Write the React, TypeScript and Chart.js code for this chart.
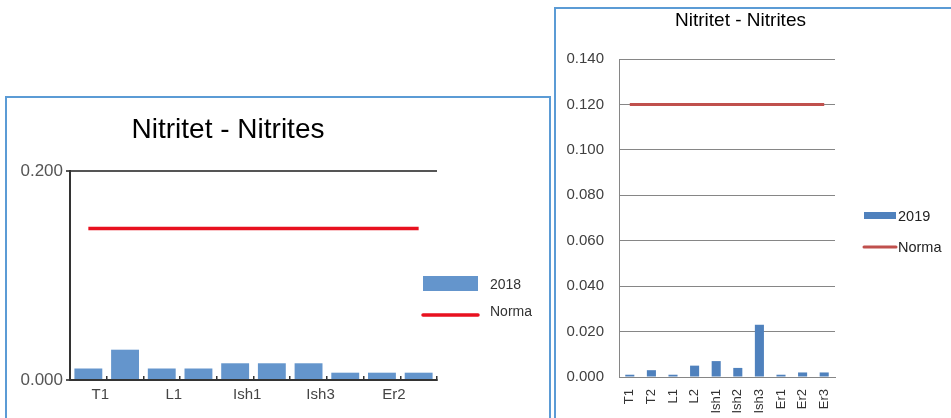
import React, { useEffect, useRef } from 'react';
import { Chart, registerables } from 'chart.js';

Chart.register(...registerables);

// ---------- data ----------
const categories = ['T1', 'T2', 'L1', 'L2', 'Ish1', 'Ish2', 'Ish3', 'Er1', 'Er2', 'Er3'];
const chartTitle = 'Nitritet - Nitrites';

const label2018 = '2018';
const values2018 = [0.011, 0.029, 0.011, 0.011, 0.016, 0.016, 0.016, 0.007, 0.007, 0.007];
const norma2018 = [0.145, 0.145, 0.145, 0.145, 0.145, 0.145, 0.145, 0.145, 0.145, 0.145];
const yTicks2018 = [0, 0.2];

const label2019 = '2019';
const values2019 = [0.001, 0.003, 0.001, 0.005, 0.007, 0.004, 0.023, 0.001, 0.002, 0.002];
const norma2019 = [0.12, 0.12, 0.12, 0.12, 0.12, 0.12, 0.12, 0.12, 0.12, 0.12];
const yTicks2019 = [0, 0.02, 0.04, 0.06, 0.08, 0.1, 0.12, 0.14];

const normaLabel = 'Norma';

const FONT = "'Liberation Sans', Arial, Helvetica, sans-serif";

// ---------- overlay plugin: title + legend at fixed spots ----------
const overlayPlugin = {
  id: 'overlay',
  afterDraw(chart: any, _args: any, opts: any) {
    const ctx = chart.ctx as CanvasRenderingContext2D;
    ctx.save();
    // title
    ctx.font = `${opts.title.weight} ${opts.title.size}px ${FONT}`;
    ctx.fillStyle = opts.title.color;
    ctx.textAlign = 'center';
    ctx.textBaseline = 'middle';
    ctx.fillText(opts.title.text, opts.title.x, opts.title.y);
    // legend
    const lg = opts.legend;
    chart.data.datasets.forEach((ds: any, i: number) => {
      const it = lg.items[i];
      if (!it) return;
      if (ds.type === 'line') {
        ctx.strokeStyle = ds.borderColor;
        ctx.lineWidth = ds.borderWidth;
        ctx.lineCap = 'round';
        ctx.beginPath();
        ctx.moveTo(lg.x, it.y);
        ctx.lineTo(lg.x + lg.boxW, it.y);
        ctx.stroke();
      } else {
        ctx.fillStyle = ds.backgroundColor;
        ctx.fillRect(lg.x, it.y - lg.boxH / 2, lg.boxW, lg.boxH);
      }
      ctx.font = `${lg.size}px ${FONT}`;
      ctx.fillStyle = lg.color;
      ctx.textAlign = 'left';
      ctx.textBaseline = 'middle';
      ctx.fillText(ds.label, lg.textX, it.textY);
    });
    ctx.restore();
  },
};

function useChart(ref: React.RefObject<HTMLCanvasElement>, makeConfig: () => any) {
  useEffect(() => {
    if (!ref.current) return;
    const chart = new Chart(ref.current, makeConfig());
    return () => chart.destroy();
  }, []);
}

function Chart2018() {
  const ref = useRef<HTMLCanvasElement>(null);
  useChart(ref, () => ({
    type: 'bar',
    data: {
      labels: categories,
      datasets: [
        {
          type: 'bar',
          label: label2018,
          data: values2018,
          backgroundColor: '#6495CC',
          borderWidth: 0,
          categoryPercentage: 1,
          barPercentage: 0.76,
          order: 2,
        },
        {
          type: 'line',
          label: normaLabel,
          data: norma2018,
          borderColor: '#E8111F',
          borderWidth: 3.5,
          pointRadius: 0,
          fill: false,
          order: 1,
        },
      ],
    },
    plugins: [overlayPlugin],
    options: {
      responsive: false,
      animation: false,
      layout: { padding: { top: 72, left: 11, right: 111, bottom: 0 } },
      plugins: {
        legend: { display: false },
        title: { display: false },
        tooltip: { enabled: false },
        overlay: {
          title: { text: chartTitle, x: 220, y: 31, size: 28, weight: 'normal', color: '#000' },
          legend: {
            x: 415, boxW: 55, boxH: 15, textX: 482, size: 14, color: '#333',
            items: [{ y: 184.5, textY: 186 }, { y: 216, textY: 213 }],
          },
        },
      },
      scales: {
        x: {
          afterFit: (s: any) => { s.height = 38; },
          grid: {
            display: true,
            drawOnChartArea: false,
            drawTicks: true,
            tickLength: -4,
            color: '#333',
            lineWidth: 1.5,
          },
          border: { display: true, color: '#333', width: 2 },
          ticks: {
            autoSkip: false,
            maxRotation: 0,
            minRotation: 0,
            padding: 10,
            labelOffset: 12,
            font: { size: 15, family: FONT },
            color: '#444',
            callback: (_v: any, i: number) => (i % 2 === 0 ? categories[i] : ''),
          },
        },
        y: {
          min: 0,
          max: 0.2,
          afterFit: (s: any) => { s.width = 51; },
          afterBuildTicks: (s: any) => { s.ticks = yTicks2018.map((v) => ({ value: v })); },
          grid: { color: '#555', lineWidth: 2, drawTicks: true, tickLength: 4 },
          border: { display: true, color: '#333', width: 2 },
          ticks: {
            padding: 3,
            font: { size: 17, family: FONT },
            color: '#555',
            callback: (v: any) => Number(v).toFixed(3),
          },
        },
      },
    },
  }));
  return (
    <canvas
      ref={ref}
      width={540}
      height={319}
      style={{ position: 'absolute', left: 8, top: 99, width: 540, height: 319 }}
    />
  );
}

function Chart2019() {
  const ref = useRef<HTMLCanvasElement>(null);
  useChart(ref, () => ({
    type: 'bar',
    data: {
      labels: categories,
      datasets: [
        {
          type: 'bar',
          label: label2019,
          data: values2019,
          backgroundColor: '#4F81BD',
          borderWidth: 0,
          categoryPercentage: 1,
          barPercentage: 0.42,
          order: 2,
        },
        {
          type: 'line',
          label: normaLabel,
          data: norma2019,
          borderColor: '#C0504D',
          borderWidth: 3,
          pointRadius: 0,
          fill: false,
          order: 1,
        },
      ],
    },
    plugins: [overlayPlugin],
    options: {
      responsive: false,
      animation: false,
      layout: { padding: { top: 49, left: 10, right: 116, bottom: 0 } },
      plugins: {
        legend: { display: false },
        title: { display: false },
        tooltip: { enabled: false },
        overlay: {
          title: { text: chartTitle, x: 183.5, y: 10.5, size: 19, weight: 'normal', color: '#000' },
          legend: {
            x: 307, boxW: 32, boxH: 7, textX: 341, size: 14.5, color: '#222',
            items: [{ y: 205.5, textY: 207 }, { y: 237, textY: 238 }],
          },
        },
      },
      scales: {
        x: {
          afterFit: (s: any) => { s.height = 41; },
          grid: { display: false },
          border: { display: true, color: '#868686', width: 1 },
          ticks: {
            autoSkip: false,
            maxRotation: 90,
            minRotation: 90,
            padding: 4,
            font: { size: 13, family: FONT },
            color: '#333',
          },
        },
        y: {
          min: 0,
          max: 0.14,
          afterFit: (s: any) => { s.width = 52; },
          afterBuildTicks: (s: any) => { s.ticks = yTicks2019.map((v) => ({ value: v })); },
          grid: { color: '#868686', lineWidth: 1, drawTicks: false },
          border: { display: true, color: '#868686', width: 1 },
          ticks: {
            padding: 15,
            font: { size: 15, family: FONT },
            color: '#404040',
            callback: (v: any) => Number(v).toFixed(3),
          },
        },
      },
    },
  }));
  return (
    <canvas
      ref={ref}
      width={394}
      height={408}
      style={{ position: 'absolute', left: 557, top: 10, width: 394, height: 408 }}
    />
  );
}

export default function App() {
  return (
    <div
      style={{
        position: 'absolute',
        left: 0,
        top: 0,
        width: 951,
        height: 418,
        overflow: 'hidden',
        background: '#fff',
      }}
    >
      <div
        style={{
          position: 'absolute',
          left: 5,
          top: 96,
          width: 542,
          height: 400,
          border: '2px solid #5B9BD5',
        }}
      />
      <div
        style={{
          position: 'absolute',
          left: 554,
          top: 7,
          width: 500,
          height: 500,
          border: '2px solid #5B9BD5',
        }}
      />
      <Chart2018 />
      <Chart2019 />
    </div>
  );
}
